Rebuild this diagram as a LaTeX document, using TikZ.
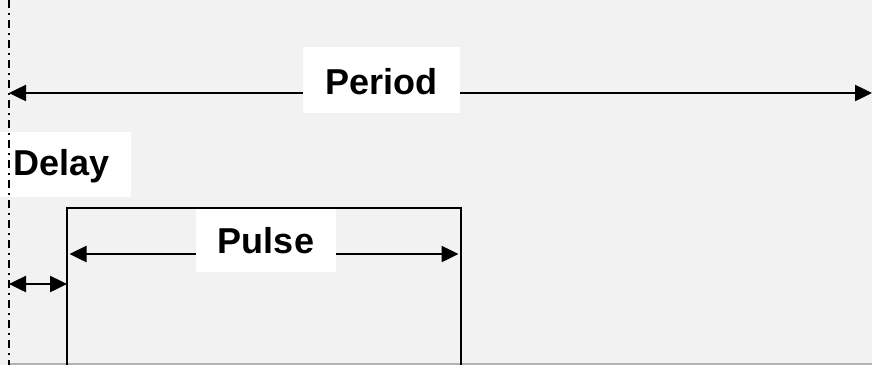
\documentclass[tikz,border=0pt]{standalone}
\usepackage{fontspec}
\setmainfont{Liberation Sans}
\usetikzlibrary{arrows.meta}
\definecolor{canvas}{HTML}{F2F2F2}
\definecolor{rule}{HTML}{B4B4B4}
\tikzset{
  span/.style={line width=2.5pt, {Triangle[length=17pt,width=16pt]}-{Triangle[length=17pt,width=16pt]}},
  labelbox/.style={fill=white, inner sep=0pt, font=\fontsize{36pt}{40pt}\selectfont\bfseries},
  pulseline/.style={line width=1.6pt},
  origin/.style={line width=2pt, dash pattern=on 8pt off 5pt on 2pt off 5pt}
}
\begin{document}
\begin{tikzpicture}[x=1pt, y=-1pt]
  % canvas
  \fill[canvas] (0,0) rectangle (872,365);
  \useasboundingbox (0,0) rectangle (872,365);

  % reference points
  \coordinate (t0top) at (9,0);
  \coordinate (t0bot) at (9,365);
  \coordinate (pstart) at (9,93);
  \coordinate (pend) at (872,93);
  \coordinate (dstart) at (9,284);
  \coordinate (rise) at (67,284);
  \coordinate (riseb) at (67,365);
  \coordinate (riset) at (67,208);
  \coordinate (fallt) at (461,208);
  \coordinate (fallb) at (461,365);
  \coordinate (wl) at (67,254);
  \coordinate (wr) at (461,254);

  % baseline along the bottom
  \draw[rule, line width=1.5pt] (9,364.2) -- (872,364.2);

  % pulse outline
  \draw[pulseline] (riseb) -- (riset) -- (fallt) -- (fallb);

  % dimension arrows
  \draw[span] (pstart) -- (pend);
  \draw[span, shorten <=2.5pt, shorten >=2.5pt] (wl) -- (wr);
  \draw[span] (dstart) -- (rise);

  % labels (text height/depth place each baseline inside its white box)
  \node[labelbox, minimum width=157pt, minimum height=66pt,
        text height=28pt, text depth=0pt] (period) at (381.5,80) {Period};
  \node[labelbox, anchor=north west, minimum height=65pt, inner xsep=13pt,
        text width=105pt, align=left, text height=28pt, text depth=7pt] (delay) at (0,132) {Delay};
  \node[labelbox, minimum width=140pt, minimum height=63pt,
        text height=28pt, text depth=2.5pt] (pulse) at (266,240.5) {Pulse};

  % time origin
  \draw[origin] (t0top) -- (t0bot);
\end{tikzpicture}
\end{document}
